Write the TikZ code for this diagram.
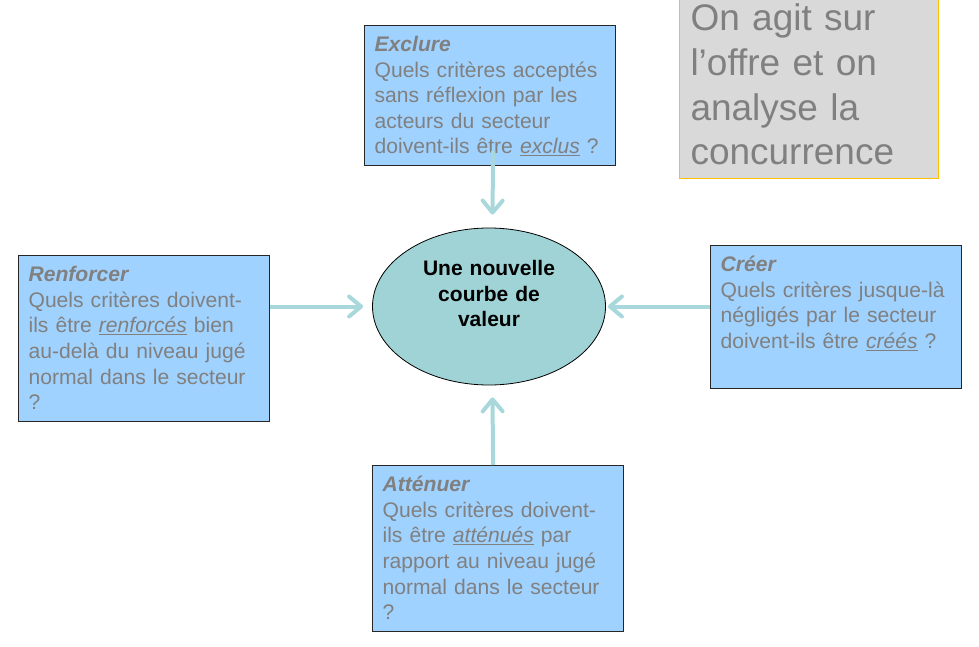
\documentclass[tikz,border=0pt]{standalone}
\usepackage{fontspec}
\setmainfont{Liberation Sans}
\usepackage{xcolor}
\usetikzlibrary{arrows.meta,shapes.geometric}
\definecolor{boxblue}{HTML}{A0D2FF}
\definecolor{ellteal}{HTML}{A0D3D6}
\definecolor{arrowteal}{HTML}{A8D8DB}
\definecolor{txtgrey}{HTML}{808080}
\definecolor{notegrey}{HTML}{D9D9D9}
\definecolor{notegold}{HTML}{FFC000}

\begin{document}
\begin{tikzpicture}[x=1pt,y=-1pt]
			\useasboundingbox (0,0) rectangle (979,647);
			\node[draw=notegold,line width=1pt,fill=notegrey,anchor=south west,text=txtgrey,
				align=left,text width=237pt,inner xsep=11pt,inner ysep=14pt,
				text height=27pt,text depth=133.5pt,font=\fontsize{37}{44.6}\selectfont]
				(N) at (679,179) {On agit sur\\l’offre et on\\analyse la\\concurrence};
			\begin{scope}[every node/.style={draw=black!85,line width=1.2pt,fill=boxblue,
				anchor=north west,text=txtgrey,align=left,text width=231pt,
				inner xsep=10pt,inner ysep=10pt,text height=16pt,
				font=\fontsize{21.1}{25.6}\selectfont}]
				\node[text depth=104pt] (E) at (364,25) {\textbf{\textit{Exclure}}\\Quels critères acceptés\\sans réflexion par les\\acteurs du secteur\\doivent-ils être \underline{\textit{exclus}} ?};
				\node[text depth=130pt] (R) at (18,255) {\textbf{\textit{Renforcer}}\\Quels critères doivent-\\ils être \underline{\textit{renforcés}} bien\\au-delà du niveau jugé\\normal dans le secteur\\?};
				\node[text depth=107pt] (C) at (710,245) {\textbf{\textit{Créer}}\\Quels critères jusque-là\\négligés par le secteur\\doivent-ils être \underline{\textit{créés}} ?};
				\node[text depth=130pt] (A) at (372,465) {\textbf{\textit{Atténuer}}\\Quels critères doivent-\\ils être \underline{\textit{atténués}} par\\rapport au niveau jugé\\normal dans le secteur\\?};
			\end{scope}
			\node[ellipse,draw=black,line width=0.8pt,fill=ellteal,minimum width=233pt,
				minimum height=157pt,inner sep=0pt,align=center,text width=140pt,
				text height=15pt,text depth=77pt,font=\bfseries\fontsize{21}{25.5}\selectfont]
				(V) at (489,306.5) {Une nouvelle\\courbe de\\valeur};
			\begin{scope}[>={Straight Barb[length=12pt,width=20pt,round]},
				every edge/.style={draw=arrowteal,line width=4pt}]
				\path [->] ([xshift=3pt,yshift=15pt]E.south) edge ([xshift=3.5pt,yshift=13pt]V.north);
				\path [->] (R.east |- V) edge ([xshift=-9pt]V.west);
				\path [->] (C.west |- V) edge ([xshift=2pt]V.east);
				\path [->] ([xshift=-5pt]A.north) edge ([xshift=3.5pt,yshift=-12pt]V.south);
			\end{scope}
		\end{tikzpicture}
\end{document}
